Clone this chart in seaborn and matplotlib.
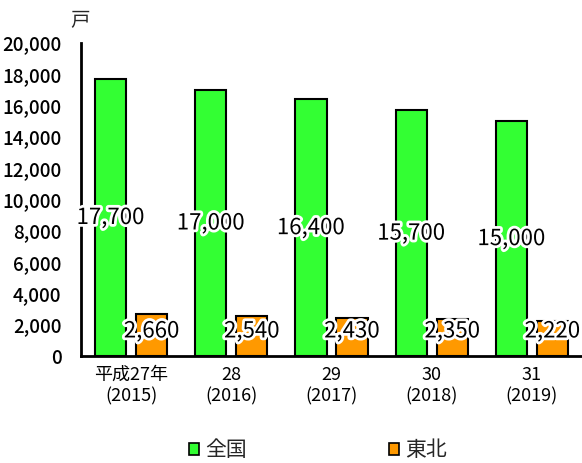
import matplotlib
matplotlib.use("Agg")
import matplotlib.pyplot as plt
import matplotlib.patheffects as pe
from matplotlib.patches import Patch
import seaborn as sns
import pandas as pd

years = ["平成27年\n(2015)", "28\n(2016)", "29\n(2017)", "30\n(2018)", "31\n(2019)"]
national = [17700, 17000, 16400, 15700, 15000]
tohoku = [2660, 2540, 2430, 2350, 2220]
series_names = ["全国", "東北"]
colors = ["#33FF33", "#FF9900"]

df = pd.DataFrame({
    "year": years * 2,
    "value": national + tohoku,
    "region": [series_names[0]] * len(years) + [series_names[1]] * len(years),
})

sns.set_theme(style="white")
plt.rcParams["font.family"] = ["Noto Sans CJK JP", "DejaVu Sans"]

W, H = 582, 463
fig = plt.figure(figsize=(W / 100, H / 100), dpi=100)
ax = fig.add_axes([81 / W, (H - 356) / H, (W - 81) / W, (356 - 43) / H])

sns.barplot(data=df, x="year", y="value", hue="region", order=years,
            hue_order=series_names, palette=colors, width=0.82, gap=0.24,
            edgecolor="black", linewidth=1.5, saturation=1, legend=False, ax=ax)

ax.set_xlim(-0.5, 4.5)
ax.set_ylim(0, 20000)
ax.set_yticks(range(0, 20001, 2000))
ax.set_yticklabels([f"{v:,}" for v in range(0, 20001, 2000)], fontsize=13.5,
                   fontweight="medium")
ax.tick_params(axis="y", direction="in", length=5, width=1.5, pad=14, colors="black")
ax.tick_params(axis="x", length=0, pad=7, colors="black")
for lbl in ax.get_xticklabels():
    lbl.set_fontsize(13)
    lbl.set_linespacing(1.25)
ax.set_xlabel("")
ax.set_ylabel("")
for side in ["top", "right"]:
    ax.spines[side].set_visible(False)
for side in ["left", "bottom"]:
    ax.spines[side].set_color("black")
    ax.spines[side].set_linewidth(2)

halo = [pe.withStroke(linewidth=4, foreground="white")]
for i, (a, b) in enumerate(zip(national, tohoku)):
    ax.text(i - 0.205, a / 2, f"{a:,}", ha="center", va="center",
            fontsize=16, color="black", path_effects=halo, zorder=5)
    ax.text(i + 0.205, 1600, f"{b:,}", ha="center", va="center",
            fontsize=16, color="black", path_effects=halo, zorder=5)

fig.text(80 / W, 1 - 21 / H, "戸", ha="center", va="center", fontsize=14)

handles = [Patch(facecolor=c, edgecolor="black", linewidth=1.2) for c in colors]
fig.legend(handles, series_names, loc="center", bbox_to_anchor=(318 / W, 1 - 450 / H),
           ncol=2, frameon=False, fontsize=15, columnspacing=6.8,
           handlelength=0.5, handleheight=0.5, handletextpad=0.3)

fig.savefig("out.png", dpi=100)
